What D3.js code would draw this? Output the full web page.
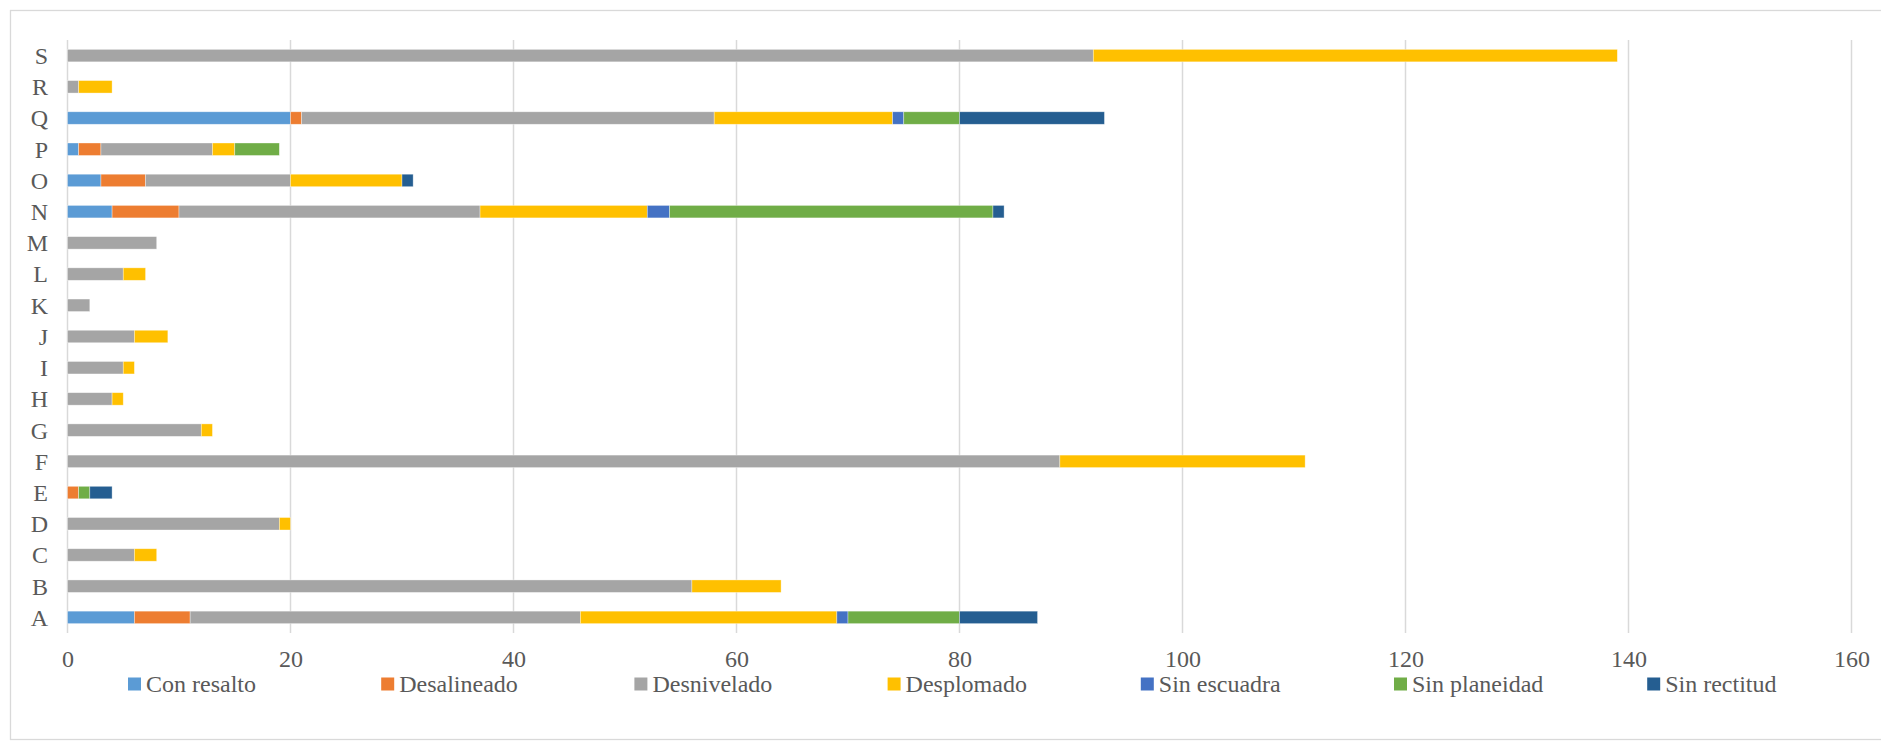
<!DOCTYPE html>
<html><head><meta charset="utf-8">
<script src="https://cdn.jsdelivr.net/npm/d3@7"></script>
<style>html,body{margin:0;padding:0;background:#fff;} svg{display:block;}</style>
</head><body>
<svg id="chart" width="1881" height="743"></svg>
<script>
const categories = ["A","B","C","D","E","F","G","H","I","J","K","L","M","N","O","P","Q","R","S"];
const seriesNames = ["Con resalto","Desalineado","Desnivelado","Desplomado","Sin escuadra","Sin planeidad","Sin rectitud"];
const seriesColors = ["#5B9BD5","#ED7D31","#A5A5A5","#FFC000","#4472C4","#70AD47","#255E91"];
//                      A  B  C  D  E  F   G  H  I  J  K  L  M  N   O   P  Q   R  S
const conResalto   = [ 6, 0, 0, 0, 0, 0,  0, 0, 0, 0, 0, 0, 0, 4,  3,  1, 20, 0, 0];
const desalineado  = [ 5, 0, 0, 0, 1, 0,  0, 0, 0, 0, 0, 0, 0, 6,  4,  2, 1,  0, 0];
const desnivelado  = [35,56, 6,19, 0,89, 12, 4, 5, 6, 2, 5, 8,27, 13, 10, 37, 1, 92];
const desplomado   = [23, 8, 2, 1, 0,22,  1, 1, 1, 3, 0, 2, 0,15, 10,  2, 16, 3, 47];
const sinEscuadra  = [ 1, 0, 0, 0, 0, 0,  0, 0, 0, 0, 0, 0, 0, 2,  0,  0, 1,  0, 0];
const sinPlaneidad = [10, 0, 0, 0, 1, 0,  0, 0, 0, 0, 0, 0, 0,29,  0,  4, 5,  0, 0];
const sinRectitud  = [ 7, 0, 0, 0, 2, 0,  0, 0, 0, 0, 0, 0, 0, 1,  1,  0, 13, 0, 0];
const xTicks = [0,20,40,60,80,100,120,140,160];

const seriesValues = [conResalto,desalineado,desnivelado,desplomado,sinEscuadra,sinPlaneidad,sinRectitud];
const keys = seriesNames;
const rows = categories.map((c,i)=>{const r={cat:c}; keys.forEach((k,j)=>r[k]=seriesValues[j][i]); return r;});

const svg = d3.select("#chart");
const font = "'Liberation Serif','Times New Roman',serif";
const textColor = "#595959";

// outer chart border
svg.append("rect").attr("x",10.5).attr("y",10.5).attr("width",1880).attr("height",729)
  .attr("fill","none").attr("stroke","#D9D9D9").attr("stroke-width",1.3);

const x = d3.scaleLinear().domain([0,160]).range([67.5,1851.5]);
const y = d3.scaleBand().domain(categories.slice().reverse()).range([40,633]).paddingInner(0.6).paddingOuter(0.3);

// gridlines
svg.append("g").selectAll("line").data(xTicks).join("line")
  .attr("x1",d=>x(d)).attr("x2",d=>x(d)).attr("y1",40).attr("y2",633)
  .attr("stroke","#D9D9D9").attr("stroke-width",1.5);

// stacked bars
const stack = d3.stack().keys(keys)(rows);
svg.append("g").selectAll("g").data(stack).join("g")
  .attr("fill",(d,i)=>seriesColors[i])
  .selectAll("rect").data(d=>d.filter(p=>p[1]-p[0]>0)).join("rect")
  .attr("x",d=>x(d[0])).attr("width",d=>x(d[1])-x(d[0]))
  .attr("y",d=>y(d.data.cat)).attr("height",y.bandwidth())
  .attr("stroke","#ffffff").attr("stroke-opacity",0.5).attr("stroke-width",0.7);

// x axis labels
const xAxis = d3.axisBottom(x).tickValues(xTicks).tickSize(0).tickPadding(0);
const gx = svg.append("g").attr("transform","translate(0,650)").call(xAxis);
gx.select(".domain").remove();
gx.selectAll("text").attr("font-family",font).attr("font-size",24).attr("fill",textColor).attr("dy","0.71em").attr("y",0);

// y axis labels
const yAxis = d3.axisLeft(y).tickSize(0).tickPadding(0);
const gy = svg.append("g").attr("transform","translate(48,0)").call(yAxis);
gy.select(".domain").remove();
gy.selectAll("text").attr("font-family",font).attr("font-size",24).attr("fill",textColor).attr("text-anchor","end").attr("dy","0.35em");

// legend
const leg = svg.append("g").selectAll("g").data(seriesNames).join("g")
  .attr("transform",(d,i)=>`translate(${128 + i*253.2},684)`);
leg.append("rect").attr("x",0).attr("y",-6.5).attr("width",13).attr("height",13).attr("fill",(d,i)=>seriesColors[i]);
leg.append("text").attr("x",18).attr("y",0).attr("dy","0.35em").text(d=>d)
  .attr("font-family",font).attr("font-size",24).attr("fill",textColor);
</script>
</body></html>
